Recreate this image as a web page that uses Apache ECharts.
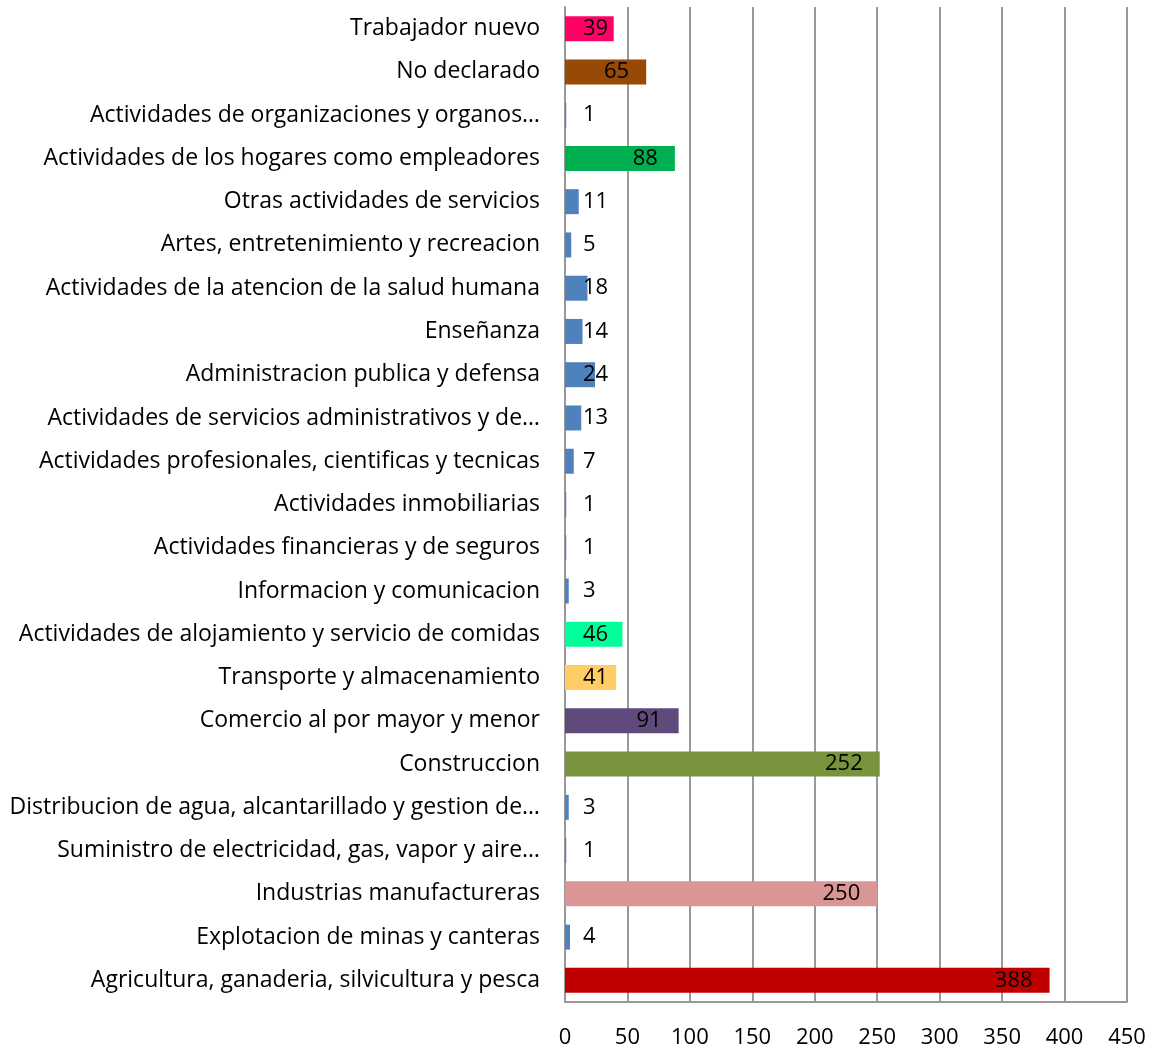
<!DOCTYPE html>
<html>
<head>
<meta charset="utf-8">
<style>
  html, body { margin: 0; padding: 0; background: #ffffff; }
  #chart { width: 1157px; height: 1049px; }
</style>
<script src="https://cdn.jsdelivr.net/npm/echarts@6/dist/echarts.min.js"></script>
</head>
<body>
<div id="chart"></div>
<script>
// Sectors, listed from top to bottom
const sectors = [
  'Trabajador nuevo',
  'No declarado',
  'Actividades de organizaciones y organos…',
  'Actividades de los hogares como empleadores',
  'Otras actividades de servicios',
  'Artes, entretenimiento y recreacion',
  'Actividades de la atencion de la salud humana',
  'Enseñanza',
  'Administracion publica y defensa',
  'Actividades de servicios administrativos y de…',
  'Actividades profesionales, cientificas y tecnicas',
  'Actividades inmobiliarias',
  'Actividades financieras y de seguros',
  'Informacion y comunicacion',
  'Actividades de alojamiento y servicio de comidas',
  'Transporte y almacenamiento',
  'Comercio al por mayor y menor',
  'Construccion',
  'Distribucion de agua, alcantarillado y gestion de…',
  'Suministro de electricidad, gas, vapor y aire…',
  'Industrias manufactureras',
  'Explotacion de minas y canteras',
  'Agricultura, ganaderia, silvicultura y pesca'
];

const counts = [39, 65, 1, 88, 11, 5, 18, 14, 24, 13, 7, 1, 1, 3, 46, 41, 91, 252, 3, 1, 250, 4, 388];

const barColors = [
  '#FF0066', '#984807', '#4F81BD', '#00B050', '#4F81BD', '#4F81BD',
  '#4F81BD', '#4F81BD', '#4F81BD', '#4F81BD', '#4F81BD', '#4F81BD',
  '#4F81BD', '#4F81BD', '#00FF99', '#FFCC66', '#604A7B', '#77933C',
  '#4F81BD', '#4F81BD', '#D99694', '#4F81BD', '#C00000'
];

const xTicks = { min: 0, max: 450, step: 50 };

const FONT = '"Open Sans"';
const CAT_SIZE = 23;
const VAL_SIZE = 22;
const GRID = { left: 565, right: 30, top: 7, bottom: 46 };
const GRID_COLOR = '#999999';

const chart = echarts.init(document.getElementById('chart'));

// width of the plotting area and pixels per unit
const plotW = 1157 - GRID.left - GRID.right;
const pxPerUnit = plotW / (xTicks.max - xTicks.min);

const measureCtx = document.createElement('canvas').getContext('2d');
measureCtx.font = VAL_SIZE + 'px ' + FONT;

// Labels sit inside the bar's end when they fit, otherwise next to the axis
const barData = counts.map((v, i) => {
  const barPx = v * pxPerUnit;
  const textW = measureCtx.measureText(String(v)).width;
  const fits = barPx - 17 - textW >= 18;
  return {
    value: v,
    itemStyle: { color: barColors[i] },
    label: fits
      ? { position: 'insideRight', distance: 17 }
      : { position: [18, '50%'], align: 'left', verticalAlign: 'middle' }
  };
});

chart.setOption({
  animation: false,
  backgroundColor: '#ffffff',
  grid: GRID,
  xAxis: {
    type: 'value',
    min: xTicks.min,
    max: xTicks.max,
    interval: xTicks.step,
    axisLine: { show: true, lineStyle: { color: GRID_COLOR, width: 2 } },
    axisTick: { show: false },
    splitLine: { show: true, lineStyle: { color: GRID_COLOR, width: 2 } },
    axisLabel: { color: '#000000', fontFamily: FONT, fontSize: VAL_SIZE, margin: 25 }
  },
  yAxis: {
    type: 'category',
    inverse: true,
    data: sectors,
    axisLine: { show: true, lineStyle: { color: GRID_COLOR, width: 2 } },
    axisTick: { show: false },
    axisLabel: { color: '#000000', fontFamily: FONT, fontSize: CAT_SIZE, margin: 25, padding: [3, 0, 0, 0] }
  },
  series: [{
    type: 'bar',
    data: barData,
    barWidth: 25,
    label: {
      show: true,
      color: '#000000',
      fontFamily: FONT,
      fontSize: VAL_SIZE
    }
  }]
});
</script>
</body>
</html>
